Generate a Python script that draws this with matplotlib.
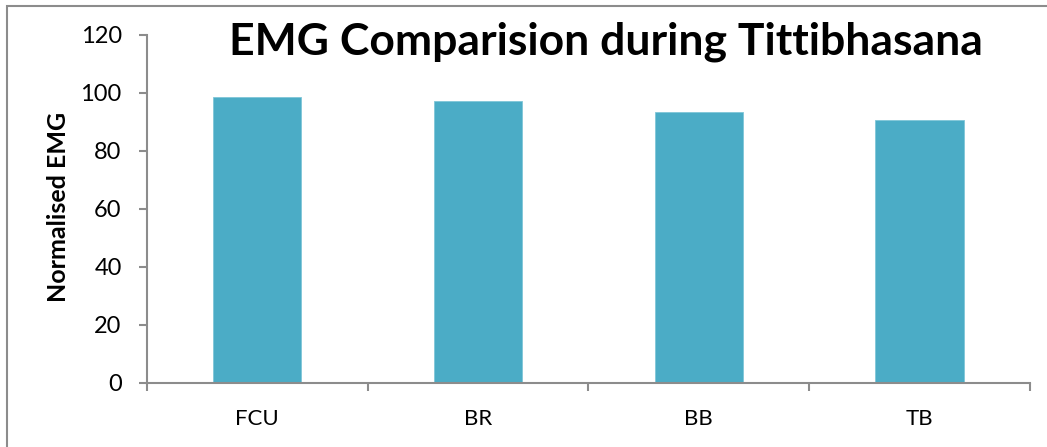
import matplotlib
matplotlib.use("Agg")
import matplotlib.pyplot as plt
from matplotlib.patches import Rectangle

# muscles and normalised EMG values
muscles = ["FCU", "BR", "BB", "TB"]
emg = [98.3, 97.2, 93.3, 90.5]
yticks = [0, 20, 40, 60, 80, 100, 120]

W, H = 1047, 447
plt.rcParams["font.family"] = ["Lato", "DejaVu Sans"]

fig = plt.figure(figsize=(W / 100, H / 100), dpi=100)
ax = fig.add_axes([146.7 / W, 1 - 382.7 / H, (1030 - 146.7) / W, (382.7 - 34.5) / H])

x = range(len(muscles))
ax.bar(x, emg, width=0.4, color="#4BACC6", edgecolor="#7fc6d8", linewidth=0.6, zorder=2)

ax.set_xlim(-0.5, len(muscles) - 0.5)
ax.set_ylim(0, 120)
ax.set_yticks(yticks)
ax.set_xticks(list(x))
ax.set_xticklabels(muscles)
# category boundary ticks on the x axis
ax.set_xticks([i - 0.5 for i in range(len(muscles) + 1)], minor=True)

grey = "#8c8c8c"
for s in ["top", "right"]:
    ax.spines[s].set_visible(False)
for s in ["left", "bottom"]:
    ax.spines[s].set_color(grey)
    ax.spines[s].set_linewidth(1.5)

ax.tick_params(axis="y", length=6, width=1.5, color=grey, pad=12, labelsize=17)
ax.tick_params(axis="x", which="major", length=0, pad=19, labelsize=16)
ax.tick_params(axis="x", which="minor", length=6, width=1.5, color=grey)

fig.text(606 / W, 1 - 42 / H, "EMG Comparision during Tittibhasana",
         ha="center", va="center", fontsize=32, fontweight="bold")
fig.text(59 / W, 1 - 206.5 / H, "Normalised EMG", rotation=90,
         ha="center", va="center", fontsize=18, fontweight="bold")

# chart area frame
fig.patches.append(Rectangle((7 / W, -0.1), 1.2, 1 - 6 / H + 0.1,
                             transform=fig.transFigure, fill=False,
                             edgecolor=grey, linewidth=1.5))

fig.savefig("out.png", dpi=100)
